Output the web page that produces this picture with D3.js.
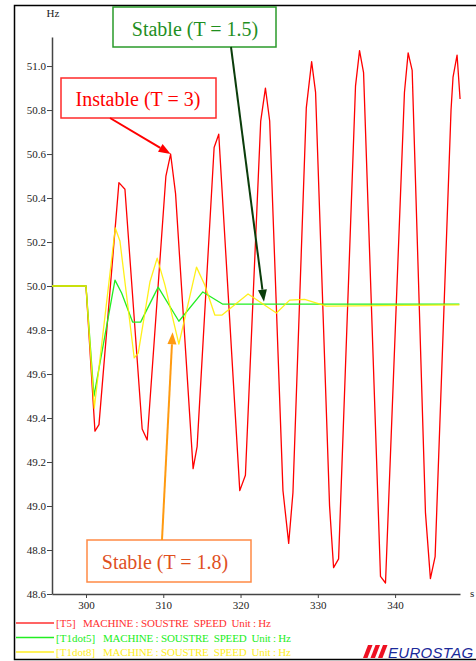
<!DOCTYPE html>
<html><head><meta charset="utf-8">
<script src="https://cdn.jsdelivr.net/npm/d3@7"></script>
<style>
html,body{margin:0;padding:0;background:#fff;}
svg{display:block;}
text{font-family:"Liberation Serif","DejaVu Serif","Times New Roman",serif;}
text.logo{font-family:"Liberation Sans","DejaVu Sans",sans-serif;}
</style></head>
<body>
<svg id="c" width="476" height="661"></svg>
<script>
// ---- data ----
const tRed = [295.6,300.0,301.16,301.68,304.26,305.04,307.27,307.92,310.34,310.95,311.59,313.86,314.38,316.58,317.18,319.90,320.63,322.61,323.22,323.77,325.49,326.23,326.78,328.51,329.20,329.71,331.52,332.04,332.69,334.88,335.40,335.92,338.11,338.76,341.21,341.69,342.21,343.93,344.57,345.18,347.24,347.50,348.02,348.41];
const vRed = [50.0,50.0,49.34,49.37,50.47,50.44,49.35,49.30,50.50,50.60,50.42,49.17,49.27,50.63,50.69,49.07,49.14,50.75,50.90,50.75,49.07,48.83,49.06,50.81,51.02,50.88,49.00,48.72,48.76,50.91,51.07,50.97,48.68,48.65,50.88,51.06,50.98,48.97,48.67,48.77,50.80,50.95,51.05,50.85];
const tGreen = [295.6,300.0,301.03,303.75,304.61,306.03,307.07,309.34,312.02,315.12,317.66,348.32];
const vGreen = [50.0,50.0,49.50,50.027,49.968,49.836,49.836,49.995,49.84,49.973,49.918,49.918];
const tYellow = [295.6,300.0,301.07,303.79,304.39,306.24,306.76,308.27,309.21,310.21,312.02,314.30,315.37,316.67,317.61,320.97,324.64,326.36,328.29,331.10,348.32];
const vYellow = [50.0,50.0,49.445,50.264,50.205,49.673,49.695,50.018,50.127,50.005,49.736,50.086,50.005,49.868,49.868,49.964,49.877,49.936,49.939,49.909,49.914];
const xTicks = [300,310,320,330,340];
const yTicks = [48.6,48.8,49.0,49.2,49.4,49.6,49.8,50.0,50.2,50.4,50.6,50.8,51.0];
const seriesNames = ["[T5]","[T1dot5]","[T1dot8]"];
const legendText = "MACHINE : SOUSTRE  SPEED  Unit : Hz";
const annLabels = ["Stable (T = 1.5)","Instable (T = 3)","Stable (T = 1.8)"];
const annTipT = [323.03, 310.95, 311.2];
const annTipV = [49.929, 50.60, 49.79];

// ---- layout ----
const svg = d3.select("#c");
const x = d3.scaleLinear().domain([295.6,348.4]).range([52,460]);
const y = d3.scaleLinear().domain([48.6,51.132]).range([594,37]);

// frame
svg.append("rect").attr("x",14.5).attr("y",5.5).attr("width",480).attr("height",654)
  .attr("fill","none").attr("stroke","#000").attr("stroke-width",1.5);

// axes
const gx = svg.append("g").attr("transform","translate(0,594)")
  .call(d3.axisBottom(x).tickValues(xTicks).tickSize(4).tickSizeOuter(0).tickFormat(d3.format("d")));
const gy = svg.append("g").attr("transform","translate(52,0)")
  .call(d3.axisLeft(y).tickValues(yTicks).tickSize(5).tickSizeOuter(0).tickFormat(d3.format(".1f")));
[gx,gy].forEach(g=>{
  g.selectAll("path").attr("stroke","#444").attr("stroke-width",1.5);
  g.selectAll("line").attr("stroke","#444").attr("stroke-width",1);
  g.selectAll("text").attr("font-size",11).attr("fill","#222");
});
gx.selectAll("text").attr("dy",null).attr("y",15);
gy.selectAll("text").attr("x",-6).attr("dy","0.35em");
svg.append("text").attr("x",53).attr("y",17).attr("text-anchor","middle").attr("font-size",11).attr("fill","#222").text("Hz");
svg.append("text").attr("x",470).attr("y",597).attr("font-size",11).attr("fill","#222").text("s");

// lines
const line = d3.line().x(d=>x(d[0])).y(d=>y(d[1]));
const series = [
  {t:tRed, v:vRed, c:"#ff0000", op:1},
  {t:tGreen, v:vGreen, c:"#22ee22", op:1},
  {t:tYellow, v:vYellow, c:"#ffee00", op:0.9}
];
series.forEach(s=>{
  svg.append("path").datum(s.t.map((t,i)=>[t,s.v[i]]))
    .attr("d",line).attr("fill","none").attr("stroke",s.c)
    .attr("stroke-width",1.3).attr("stroke-opacity",s.op).attr("stroke-linejoin","round");
});

// annotations
const anns = [
  {box:[113,7,163,40], col:"#2a9a2a", txt:"#1f8f1f", arrow:"#0b3d0b", from:[231,47], tx:195, ty:36},
  {box:[61,78,155,40], col:"#ff2a2a", txt:"#ff0000", arrow:"#ff0000", from:[110,118], tx:138, ty:106},
  {box:[87,540,164,42], col:"#ff8a45", txt:"#e0501e", arrow:"#ff9a10", from:[162,540], tx:165, ty:569}
];
anns.forEach((a,i)=>{
  svg.append("rect").attr("x",a.box[0]).attr("y",a.box[1]).attr("width",a.box[2]).attr("height",a.box[3])
    .attr("fill","#fff").attr("stroke",a.col).attr("stroke-width",1.5);
  svg.append("text").attr("x",a.tx).attr("y",a.ty).attr("text-anchor","middle")
    .attr("font-size",20).attr("fill",a.txt).text(annLabels[i]);
  const tip = [x(annTipT[i]), y(annTipV[i])];
  const dx = tip[0]-a.from[0], dy = tip[1]-a.from[1], L = Math.hypot(dx,dy);
  const ux = dx/L, uy = dy/L, hl = 12, hw = 4.5;
  const bx = tip[0]-ux*hl, by = tip[1]-uy*hl;
  svg.append("line").attr("x1",a.from[0]).attr("y1",a.from[1]).attr("x2",bx).attr("y2",by)
    .attr("stroke",a.arrow).attr("stroke-width",2);
  svg.append("path").attr("d",`M${tip[0]},${tip[1]}L${bx-uy*hw},${by+ux*hw}L${bx+uy*hw},${by-ux*hw}Z`)
    .attr("fill",a.arrow);
});

// legend
const legCols = ["#ff3030","#22ee22","#ffee22"];
const legMx = [83,103,103];
seriesNames.forEach((n,i)=>{
  const yy = 623 + i*14.5;
  svg.append("line").attr("x1",16).attr("x2",54).attr("y1",yy).attr("y2",yy).attr("stroke",legCols[i]).attr("stroke-width",1.3);
  svg.append("text").attr("x",56).attr("y",yy+4).attr("font-size",11).attr("fill",legCols[i]).text(n);
  svg.append("text").attr("x",legMx[i]).attr("y",yy+4).attr("font-size",11).attr("fill",legCols[i])
    .attr("textLength",188).attr("lengthAdjust","spacing").style("white-space","pre").text(legendText);
});

// logo
const lg = svg.append("g");
[0,1,2].forEach(k=>{
  lg.append("path").attr("d",`M${363+k*7.5},658L${368+k*7.5},645L${372.5+k*7.5},645L${367.5+k*7.5},658Z`).attr("fill","#ee1122");
});
lg.append("text").attr("class","logo").attr("x",388).attr("y",658).attr("font-style","italic")
  .attr("font-size",15).attr("letter-spacing",0.3).attr("fill","#1a2a9a").text("EUROSTAG");
</script>
</body></html>
